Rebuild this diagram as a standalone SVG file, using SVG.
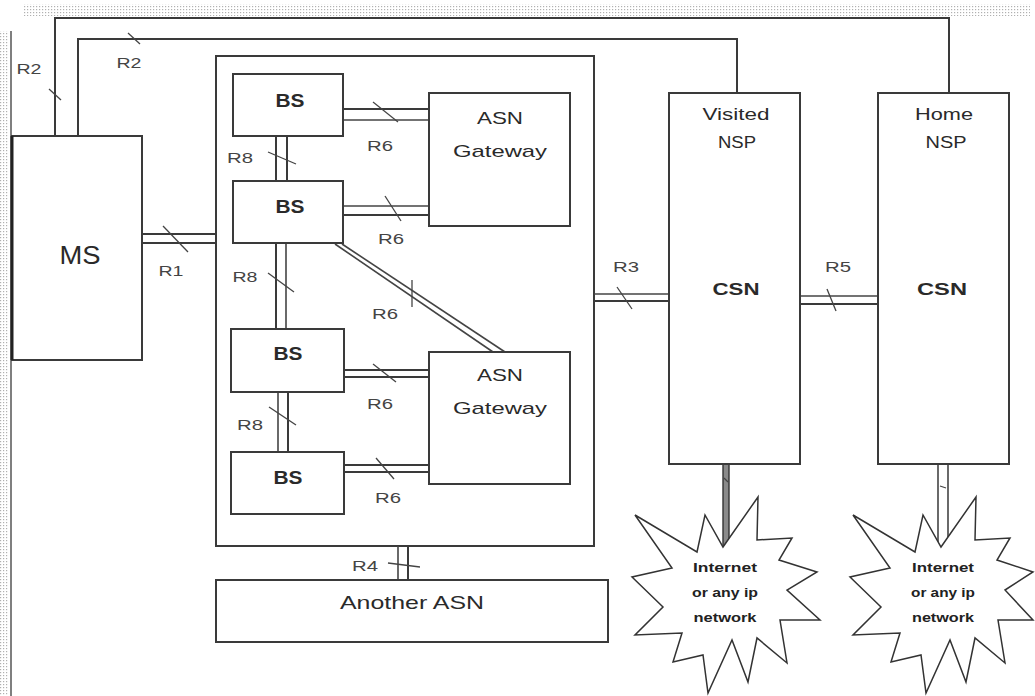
<svg xmlns="http://www.w3.org/2000/svg" width="1035" height="696" viewBox="0 0 1035 696">
<defs>
<pattern id="dots" width="3" height="3" patternUnits="userSpaceOnUse">
<rect x="0" y="0" width="1.2" height="1.2" fill="#b0b0b0"/>
</pattern>
<style>
.box{fill:#fff;stroke:#3a3a3a;stroke-width:2}
.ln{fill:none;stroke:#3a3a3a;stroke-width:2}
.thin{fill:none;stroke:#444;stroke-width:1.6}
.tk{fill:none;stroke:#444;stroke-width:1.3}
.t{font-family:"Liberation Sans",Arial,sans-serif;fill:#2a2a2a;text-anchor:middle}
.b{font-weight:bold}
.lbl{font-family:"Liberation Sans",Arial,sans-serif;fill:#444;text-anchor:middle;font-size:14px}
.net{font-family:"Liberation Sans",Arial,sans-serif;font-weight:bold;fill:#222;text-anchor:middle;font-size:12px}
</style>
</defs>
<rect width="1035" height="696" fill="#fff"/>
<rect x="23" y="4" width="1007" height="12" fill="url(#dots)"/>
<rect x="0" y="31" width="9" height="665" fill="url(#dots)"/>
<line x1="11" y1="31" x2="11" y2="696" stroke="#555" stroke-width="1.5"/>

<g id="asn">
<rect x="216" y="56" width="378" height="490" fill="none" stroke="#3a3a3a" stroke-width="2"/>
</g>

<g id="connectors">
<path class="ln" d="M55,136 V18 H949 V93"/>
<path class="ln" d="M78,136 V39 H737 V93"/>
<line class="tk" x1="49" y1="89" x2="61" y2="100"/>
<line class="tk" x1="128" y1="33" x2="140" y2="44"/>
<line class="ln" x1="142" y1="234" x2="216" y2="234"/>
<line class="ln" x1="142" y1="243" x2="216" y2="243" stroke-width="2.6"/>
<line class="tk" x1="163" y1="226" x2="188" y2="252"/>
<line class="ln" x1="343" y1="109" x2="429" y2="109"/>
<line class="thin" x1="343" y1="120" x2="429" y2="120"/>
<line class="tk" x1="373" y1="102" x2="398" y2="122"/>
<line class="thin" x1="343" y1="206" x2="429" y2="206"/>
<line class="ln" x1="343" y1="215" x2="429" y2="215"/>
<line class="tk" x1="385" y1="196" x2="401" y2="221"/>
<line class="ln" x1="344" y1="370" x2="429" y2="370"/>
<line class="ln" x1="344" y1="377" x2="429" y2="377"/>
<line class="tk" x1="373" y1="364" x2="396" y2="382"/>
<line class="ln" x1="344" y1="465" x2="429" y2="465"/>
<line class="ln" x1="344" y1="472" x2="429" y2="472"/>
<line class="tk" x1="376" y1="458" x2="394" y2="479"/>
<line class="thin" x1="335" y1="244" x2="493" y2="352"/>
<line class="thin" x1="342" y1="244" x2="505" y2="352"/>
<line class="tk" x1="412" y1="280" x2="412" y2="307"/>
<line class="ln" x1="276" y1="136" x2="276" y2="181"/>
<line class="ln" x1="287" y1="136" x2="287" y2="181"/>
<line class="tk" x1="268" y1="152" x2="296" y2="164"/>
<line class="ln" x1="276" y1="243" x2="276" y2="329"/>
<line class="thin" x1="286" y1="243" x2="286" y2="329"/>
<line class="tk" x1="268" y1="273" x2="294" y2="292"/>
<line class="thin" x1="278" y1="392" x2="278" y2="452"/>
<line class="ln" x1="288" y1="392" x2="288" y2="452"/>
<line class="tk" x1="269" y1="407" x2="296" y2="425"/>
<line class="thin" x1="398" y1="546" x2="398" y2="580"/>
<line class="ln" x1="408" y1="546" x2="408" y2="580"/>
<line class="tk" x1="388" y1="563" x2="420" y2="567"/>
<line class="thin" x1="594" y1="294" x2="669" y2="294"/>
<line class="ln" x1="594" y1="301" x2="669" y2="301"/>
<line class="tk" x1="617" y1="287" x2="632" y2="309"/>
<line class="thin" x1="800" y1="296" x2="878" y2="296"/>
<line class="ln" x1="800" y1="304" x2="878" y2="304"/>
<line class="tk" x1="827" y1="289" x2="836" y2="311"/>
<rect x="723" y="464" width="6" height="83" fill="#8a8a8a" stroke="#333" stroke-width="1.4"/>
<line class="tk" x1="724" y1="478" x2="728" y2="482"/>
<line class="thin" x1="938" y1="464" x2="938" y2="546"/>
<line class="thin" x1="948" y1="464" x2="948" y2="546"/>
<line class="tk" x1="940" y1="486" x2="946" y2="488"/>
</g>

<g id="ms">
<rect class="box" x="12" y="136" width="130" height="224"/>
<line x1="12" y1="136" x2="12" y2="360" stroke="#222" stroke-width="3"/>
<text class="t" x="80" y="264" font-size="25" textLength="41" lengthAdjust="spacingAndGlyphs">MS</text>
</g>

<g id="bs1">
<rect class="box" x="233" y="74" width="110" height="62"/>
<text class="t b" x="290" y="107" font-size="18" textLength="29" lengthAdjust="spacingAndGlyphs">BS</text>
</g>
<g id="bs2">
<rect class="box" x="233" y="181" width="110" height="62"/>
<text class="t b" x="290" y="213" font-size="18" textLength="29" lengthAdjust="spacingAndGlyphs">BS</text>
</g>
<g id="bs3">
<rect class="box" x="231" y="329" width="113" height="63"/>
<text class="t b" x="288" y="360" font-size="18" textLength="29" lengthAdjust="spacingAndGlyphs">BS</text>
</g>
<g id="bs4">
<rect class="box" x="231" y="452" width="113" height="62"/>
<text class="t b" x="288" y="484" font-size="18" textLength="29" lengthAdjust="spacingAndGlyphs">BS</text>
</g>

<g id="gw1">
<rect class="box" x="429" y="93" width="141" height="133"/>
<text class="t" x="500" y="124" font-size="17" textLength="46" lengthAdjust="spacingAndGlyphs">ASN</text>
<text class="t" x="500" y="157" font-size="17" textLength="94" lengthAdjust="spacingAndGlyphs">Gateway</text>
</g>
<g id="gw2">
<rect class="box" x="429" y="352" width="141" height="132"/>
<text class="t" x="500" y="381" font-size="17" textLength="46" lengthAdjust="spacingAndGlyphs">ASN</text>
<text class="t" x="500" y="414" font-size="17" textLength="94" lengthAdjust="spacingAndGlyphs">Gateway</text>
</g>

<g id="another-asn">
<rect class="box" x="216" y="580" width="392" height="62" stroke-width="1.6"/>
<text class="t" x="412" y="609" font-size="19" textLength="144" lengthAdjust="spacingAndGlyphs">Another ASN</text>
</g>

<g id="visited-nsp">
<rect class="box" x="669" y="93" width="131" height="371"/>
<text class="t" x="736" y="120" font-size="16" textLength="67" lengthAdjust="spacingAndGlyphs">Visited</text>
<text class="t" x="737" y="148" font-size="16" textLength="38" lengthAdjust="spacingAndGlyphs">NSP</text>
<text class="t b" x="736" y="295" font-size="17" textLength="47" lengthAdjust="spacingAndGlyphs">CSN</text>
</g>

<g id="home-nsp">
<rect class="box" x="878" y="93" width="131" height="371"/>
<text class="t" x="944" y="120" font-size="16" textLength="58" lengthAdjust="spacingAndGlyphs">Home</text>
<text class="t" x="946" y="148" font-size="16" textLength="41" lengthAdjust="spacingAndGlyphs">NSP</text>
<text class="t b" x="942" y="295" font-size="17" textLength="50" lengthAdjust="spacingAndGlyphs">CSN</text>
</g>

<g id="internet1">
<polygon fill="#fff" stroke="#333" stroke-width="1.5" points="635,515 697,552 705,515 723,547 758,497 757,540 792,538 779,560 817,572 787,590 820,620 780,620 787,663 757,638 748,682 732,640 708,693 703,655 673,662 682,633 635,635 663,607 632,577 672,568"/>
<text class="net" x="725" y="572" textLength="64" lengthAdjust="spacingAndGlyphs">Internet</text>
<text class="net" x="725" y="597" textLength="66" lengthAdjust="spacingAndGlyphs">or any ip</text>
<text class="net" x="725" y="622" textLength="63" lengthAdjust="spacingAndGlyphs">network</text>
</g>

<g id="internet2">
<polygon fill="#fff" stroke="#333" stroke-width="1.5" transform="translate(218,0)" points="635,515 697,552 705,515 723,547 758,497 757,540 792,538 779,560 815,572 787,590 815,620 780,620 787,663 757,638 748,682 732,640 708,693 703,655 673,662 682,633 635,635 663,607 632,577 672,568"/>
<text class="net" x="943" y="572" textLength="62" lengthAdjust="spacingAndGlyphs">Internet</text>
<text class="net" x="943" y="597" textLength="64" lengthAdjust="spacingAndGlyphs">or any ip</text>
<text class="net" x="943" y="622" textLength="62" lengthAdjust="spacingAndGlyphs">network</text>
</g>

<g id="labels">
<text class="lbl" x="29" y="74" textLength="25" lengthAdjust="spacingAndGlyphs">R2</text>
<text class="lbl" x="129" y="68" textLength="25" lengthAdjust="spacingAndGlyphs">R2</text>
<text class="lbl" x="171" y="276" textLength="25" lengthAdjust="spacingAndGlyphs">R1</text>
<text class="lbl" x="240" y="163" textLength="26" lengthAdjust="spacingAndGlyphs">R8</text>
<text class="lbl" x="245" y="282" textLength="25" lengthAdjust="spacingAndGlyphs">R8</text>
<text class="lbl" x="250" y="430" textLength="26" lengthAdjust="spacingAndGlyphs">R8</text>
<text class="lbl" x="380" y="151" textLength="26" lengthAdjust="spacingAndGlyphs">R6</text>
<text class="lbl" x="391" y="244" textLength="26" lengthAdjust="spacingAndGlyphs">R6</text>
<text class="lbl" x="385" y="319" textLength="26" lengthAdjust="spacingAndGlyphs">R6</text>
<text class="lbl" x="380" y="409" textLength="26" lengthAdjust="spacingAndGlyphs">R6</text>
<text class="lbl" x="388" y="503" textLength="26" lengthAdjust="spacingAndGlyphs">R6</text>
<text class="lbl" x="365" y="571" textLength="26" lengthAdjust="spacingAndGlyphs">R4</text>
<text class="lbl" x="626" y="272" textLength="26" lengthAdjust="spacingAndGlyphs">R3</text>
<text class="lbl" x="838" y="272" textLength="26" lengthAdjust="spacingAndGlyphs">R5</text>
</g>
</svg>
